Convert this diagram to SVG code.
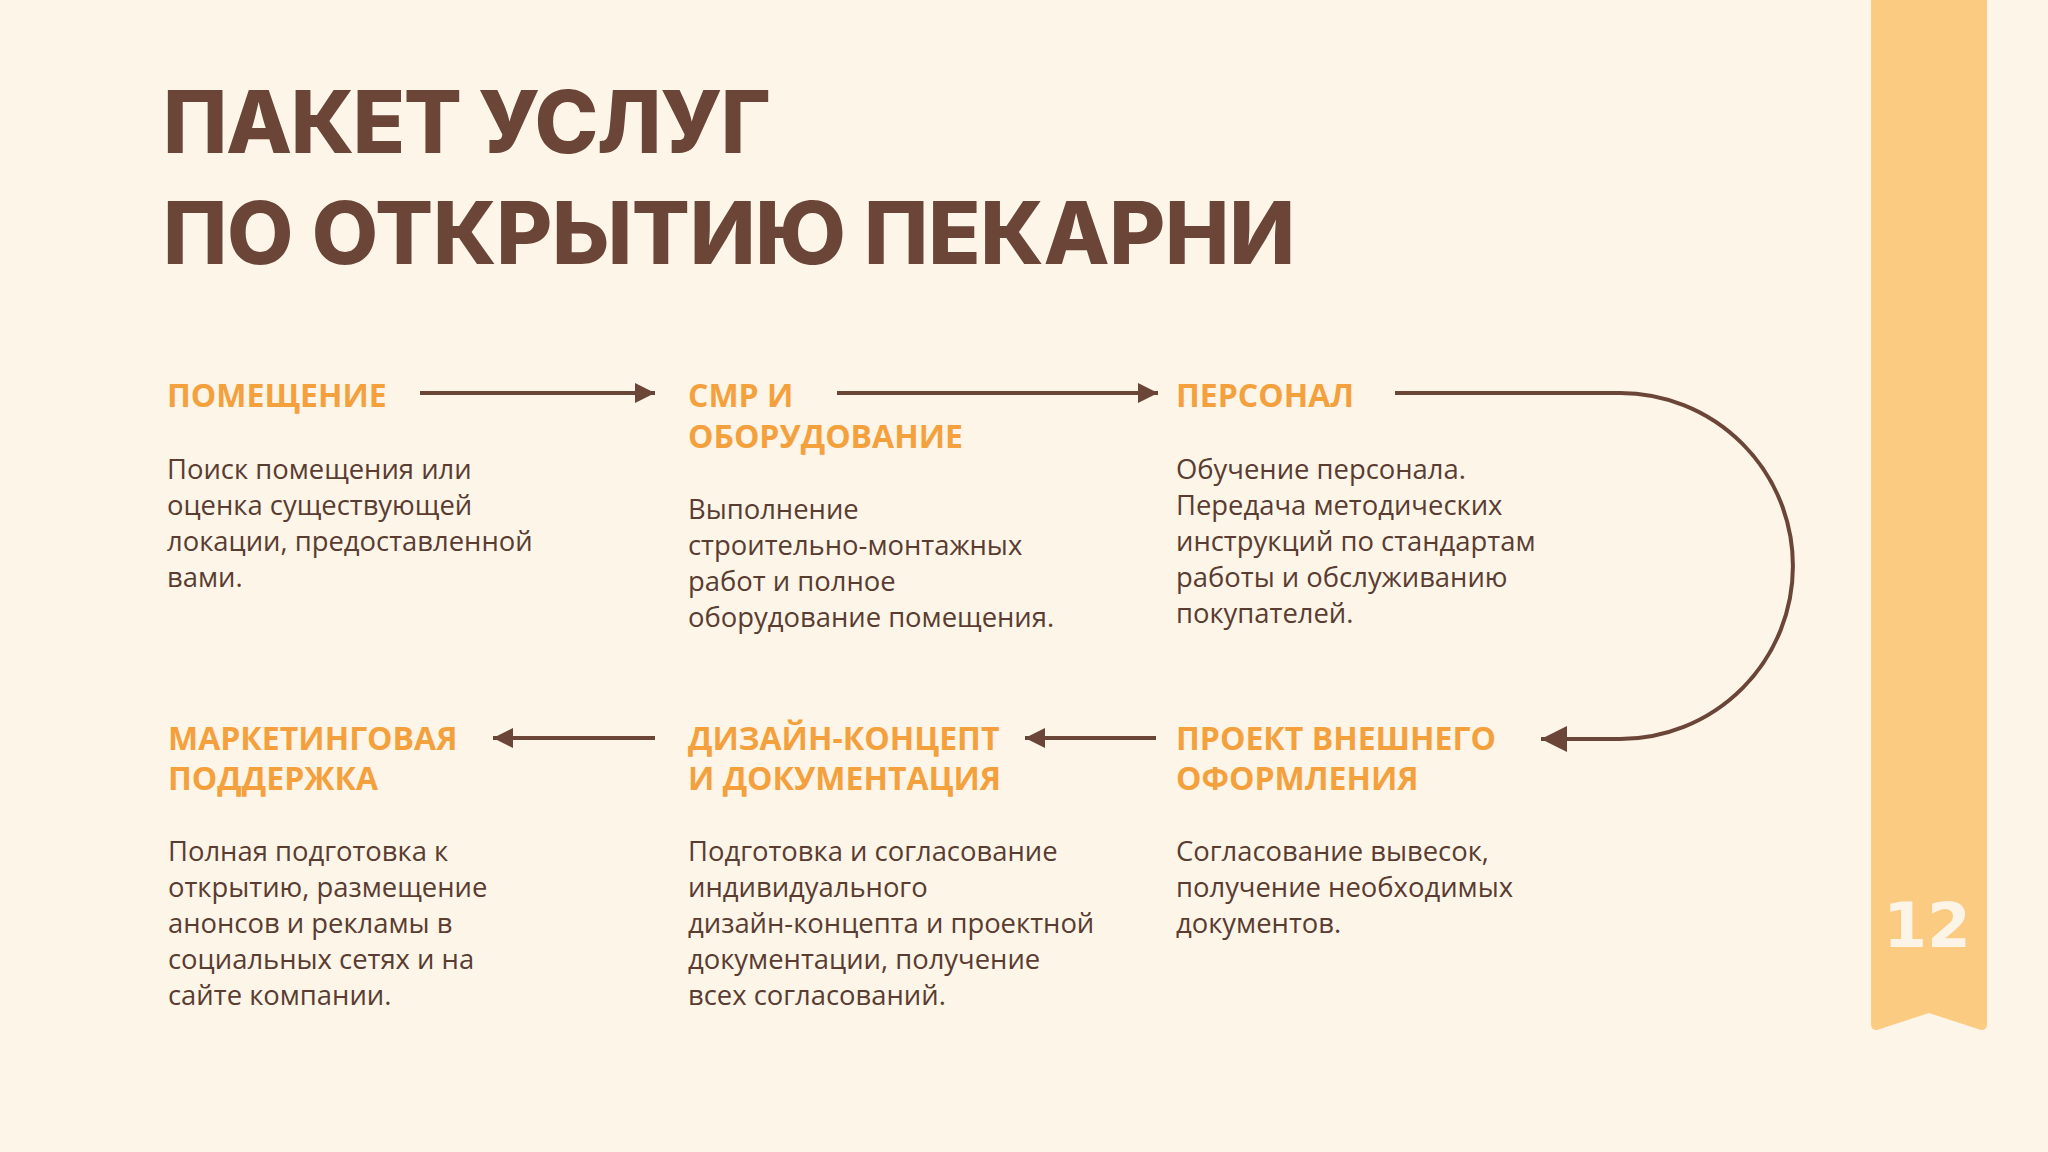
<svg xmlns="http://www.w3.org/2000/svg" width="2048" height="1152" viewBox="0 0 2048 1152">
<style>
.title{font-family:Inter,"Open Sans","Noto Sans",sans-serif;font-weight:800;font-size:86px;fill:#6B4538}
.h{font-family:"Open Sans","Noto Sans",sans-serif;font-weight:700;font-size:32px;fill:#F4A13D}
.b{font-family:"Open Sans","Noto Sans",sans-serif;font-weight:400;font-size:27.4px;fill:#5A3C31}
.num{font-family:"DejaVu Sans",sans-serif;font-weight:700;font-size:63px;fill:#FCF4E6}
.c{fill:none;stroke:#6B4538;stroke-width:4}
</style>
<defs>
<marker id="ah" viewBox="0 0 10 10" refX="10" refY="5" markerWidth="5" markerHeight="5.2" markerUnits="strokeWidth" orient="auto">
<path d="M0,0 L10,5 L0,10 Z" fill="#6B4538"/>
</marker>
<marker id="ahl" viewBox="0 0 10 10" refX="10" refY="5" markerWidth="6.8" markerHeight="6.5" markerUnits="strokeWidth" orient="auto">
<path d="M0,0 L10,5 L0,10 Z" fill="#6B4538"/>
</marker>
</defs>
<rect width="2048" height="1152" fill="#FCF5E8"/>
<g id="ribbon">
<path d="M1871,0 H1987 V1024 Q1987,1030 1981,1030 L1929,1013 L1877,1030 Q1871,1030 1871,1024 Z" fill="#FBCB81"/>
<text class="num" x="1927" y="947" text-anchor="middle">12</text>
</g>
<g id="title">
<text class="title" x="163" y="153" textLength="608">ПАКЕТ УСЛУГ</text>
<text class="title" x="163" y="264" textLength="1132">ПО ОТКРЫТИЮ ПЕКАРНИ</text>
</g>
<g id="connectors">
<line class="c" x1="420" y1="393" x2="655" y2="393" marker-end="url(#ah)"/>
<line class="c" x1="837" y1="393" x2="1158" y2="393" marker-end="url(#ah)"/>
<path class="c" d="M1395,393 H1620 A173,173 0 0 1 1620,739 H1541" marker-end="url(#ahl)"/>
<line class="c" x1="1156" y1="738" x2="1025" y2="738" marker-end="url(#ah)"/>
<line class="c" x1="655" y1="738" x2="493" y2="738" marker-end="url(#ah)"/>
</g>
<g id="node-pomeshchenie">
<text class="h" x="167" y="407">ПОМЕЩЕНИЕ</text>
<text class="b" x="167" y="479">Поиск помещения или</text>
<text class="b" x="167" y="515">оценка существующей</text>
<text class="b" x="167" y="551">локации, предоставленной</text>
<text class="b" x="167" y="587">вами.</text>
</g>
<g id="node-smr">
<text class="h" x="688" y="407">СМР И</text>
<text class="h" x="688" y="448">ОБОРУДОВАНИЕ</text>
<text class="b" x="688" y="519">Выполнение</text>
<text class="b" x="688" y="555">строительно-монтажных</text>
<text class="b" x="688" y="591">работ и полное</text>
<text class="b" x="688" y="627">оборудование помещения.</text>
</g>
<g id="node-personal">
<text class="h" x="1176" y="407">ПЕРСОНАЛ</text>
<text class="b" x="1176" y="479">Обучение персонала.</text>
<text class="b" x="1176" y="515">Передача методических</text>
<text class="b" x="1176" y="551">инструкций по стандартам</text>
<text class="b" x="1176" y="587">работы и обслуживанию</text>
<text class="b" x="1176" y="623">покупателей.</text>
</g>
<g id="node-proekt">
<text class="h" x="1176" y="750">ПРОЕКТ ВНЕШНЕГО</text>
<text class="h" x="1176" y="790">ОФОРМЛЕНИЯ</text>
<text class="b" x="1176" y="861">Согласование вывесок,</text>
<text class="b" x="1176" y="897">получение необходимых</text>
<text class="b" x="1176" y="933">документов.</text>
</g>
<g id="node-dizain">
<text class="h" x="688" y="750">ДИЗАЙН-КОНЦЕПТ</text>
<text class="h" x="688" y="790">И ДОКУМЕНТАЦИЯ</text>
<text class="b" x="688" y="861">Подготовка и согласование</text>
<text class="b" x="688" y="897">индивидуального</text>
<text class="b" x="688" y="933">дизайн-концепта и проектной</text>
<text class="b" x="688" y="969">документации, получение</text>
<text class="b" x="688" y="1005">всех согласований.</text>
</g>
<g id="node-marketing">
<text class="h" x="168" y="750">МАРКЕТИНГОВАЯ</text>
<text class="h" x="168" y="790">ПОДДЕРЖКА</text>
<text class="b" x="168" y="861">Полная подготовка к</text>
<text class="b" x="168" y="897">открытию, размещение</text>
<text class="b" x="168" y="933">анонсов и рекламы в</text>
<text class="b" x="168" y="969">социальных сетях и на</text>
<text class="b" x="168" y="1005">сайте компании.</text>
</g>
</svg>
